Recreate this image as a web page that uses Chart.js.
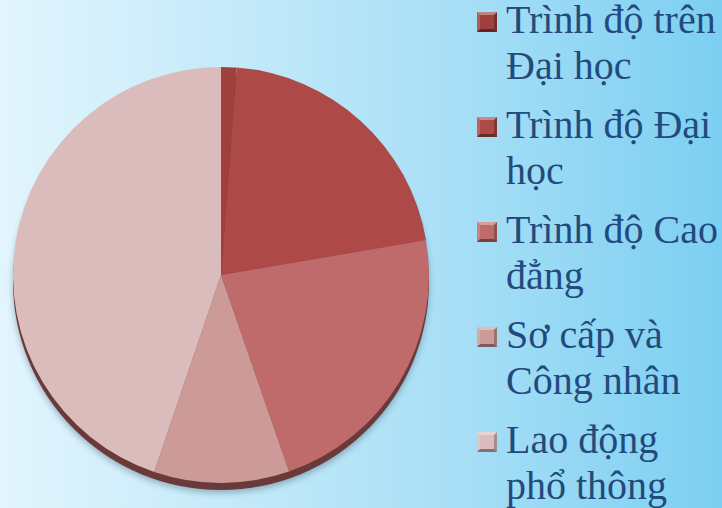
<!DOCTYPE html>
<html>
<head>
<meta charset="utf-8">
<script src="https://cdn.jsdelivr.net/npm/chart.js@4/dist/chart.umd.min.js"></script>
<style>
    html, body { margin: 0; padding: 0; }
    body {
        width: 722px;
        height: 508px;
        overflow: hidden;
        position: relative;
        background: linear-gradient(to right, #e2f5fd 0%, #c2e9f9 35%, #a6def6 65%, #7ccff1 100%);
        font-family: 'Liberation Serif', 'Times New Roman', serif;
    }
    #wrap { position: absolute; left: 0; top: 0; width: 442px; height: 508px; }
    #legend { position: absolute; left: 477px; top: -3px; }
    .item { position: relative; padding-left: 29px; margin-bottom: 13px; }
    .item .txt { color: #234a7d; font-size: 40px; line-height: 46px; white-space: nowrap; }
    .item .box {
        position: absolute; left: 0; top: 15px;
        width: 14px; height: 14px;
        border-style: solid; border-width: 3px;
    }
</style>
</head>
<body>
<div id="wrap"><canvas id="pie"></canvas></div>
<div id="legend"></div>
<script>
// Categories (each label split into its two display lines)
const labels = [
    ['Trình độ trên', 'Đại học'],
    ['Trình độ Đại', 'học'],
    ['Trình độ Cao', 'đẳng'],
    ['Sơ cấp và', 'Công nhân'],
    ['Lao động', 'phổ thông']
];
// Share of each group, percent
const values = [1.2, 21.1, 22.4, 10.5, 44.8];
const colors = ['#9f403d', '#ad4946', '#bf6a6b', '#cc9a97', '#dbbcbd'];

function shade(hex, f) {
    const c = [1, 3, 5].map(i => parseInt(hex.slice(i, i + 2), 16));
    const out = c.map(v => f >= 0 ? Math.round(v + (255 - v) * f) : Math.round(v * (1 + f)));
    return `rgb(${out.join(',')})`;
}

// dark rim under the pie, gives the tilted 3D edge
const rimPlugin = {
    id: 'rim',
    beforeDatasetsDraw(chart) {
        const arc = chart.getDatasetMeta(0).data[0];
        if (!arc) return;
        const ctx = chart.ctx;
        ctx.save();
        ctx.shadowColor = 'rgba(40,60,80,0.35)';
        ctx.shadowBlur = 6;
        ctx.shadowOffsetY = 3;
        ctx.fillStyle = '#6a3a3a';
        ctx.beginPath();
        ctx.ellipse(arc.x, arc.y + 7, arc.outerRadius, arc.outerRadius, 0, 0, Math.PI * 2);
        ctx.fill();
        ctx.restore();
    }
};

new Chart(document.getElementById('pie'), {
    type: 'pie',
    data: {
        labels,
        datasets: [{
            data: values,
            backgroundColor: colors,
            borderWidth: 0,
        }],
    },
    options: {
        responsive: true,
        maintainAspectRatio: false,
        animation: false,
        layout: { padding: { top: 67, bottom: 25 } },
        plugins: {
            legend: { display: false },
            tooltip: { enabled: false },
        },
    },
    plugins: [rimPlugin],
});

// HTML legend with bevelled squares
const legend = document.getElementById('legend');
labels.forEach((lines, i) => {
    const item = document.createElement('div');
    item.className = 'item';
    const box = document.createElement('div');
    box.className = 'box';
    box.style.background = colors[i];
    box.style.borderTopColor = shade(colors[i], 0.35);
    box.style.borderLeftColor = shade(colors[i], 0.15);
    box.style.borderRightColor = shade(colors[i], -0.25);
    box.style.borderBottomColor = shade(colors[i], -0.4);
    const txt = document.createElement('div');
    txt.className = 'txt';
    txt.innerHTML = lines.join('<br>');
    item.appendChild(box);
    item.appendChild(txt);
    legend.appendChild(item);
});
</script>
</body>
</html>
